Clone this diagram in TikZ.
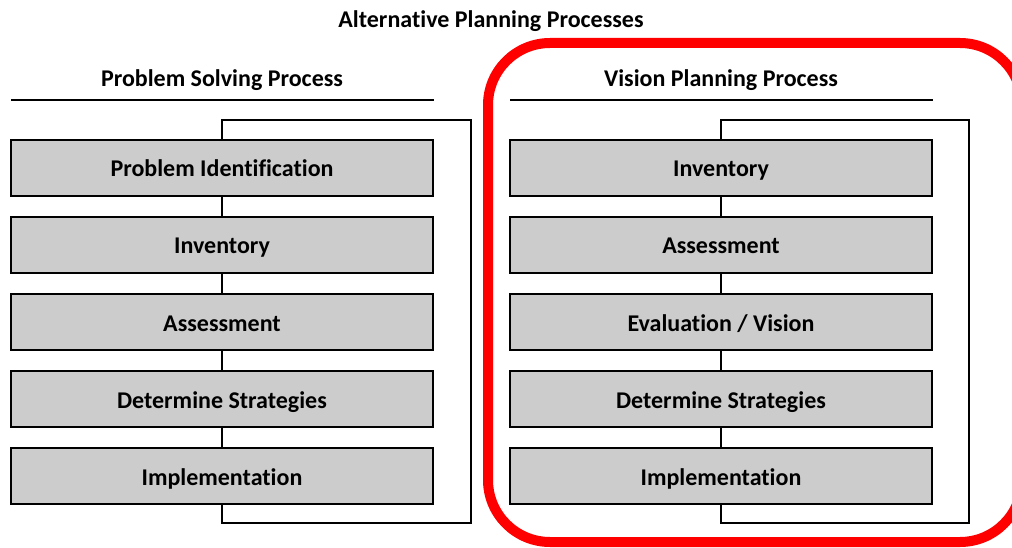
\documentclass[tikz,border=0pt]{standalone}
\usepackage{fontspec}
\setmainfont{Carlito}[Ligatures={NoCommon}]
\begin{document}
\begin{tikzpicture}[x=1pt,y=-1pt,
  stepbox/.style={draw=black,line width=2.6pt,fill=black!20,minimum width=422pt,minimum height=56pt,inner sep=0pt,text height=20pt,text depth=2pt,font=\fontsize{24}{28}\selectfont\bfseries},
  hdr/.style={font=\fontsize{24}{28}\selectfont\bfseries,inner sep=0pt,anchor=base},
  link/.style={line width=1.8pt,draw=black}]
\useasboundingbox (0,0) rectangle (1012,548);
\node[hdr] (title) at (491,27.5) {Alternative Planning Processes};
% red frame
\draw[red,line width=10pt,rounded corners=62pt] (488,43) rectangle (1022,542);
% left column
\node[hdr] (lh) at (222,86.5) {Problem Solving Process};
\draw[link] (11,100) -- (434,100);
\node[stepbox] (l1) at (222,168) {Problem Identification};
\node[stepbox] (l2) at (222,245) {Inventory};
\node[stepbox] (l3) at (222,322) {Assessment};
\node[stepbox] (l4) at (222,399) {Determine Strategies};
\node[stepbox] (l5) at (222,476) {Implementation};
\coordinate (la) at (222,120);
\coordinate (lb) at (471,120);
\coordinate (lc) at (471,523);
\coordinate (ld) at (222,523);
\draw[link] (l1.north) -- (la) -- (lb) -- (lc) -- (ld) -- (l5.south);
\draw[link] (l1) -- (l2);
\draw[link] (l2) -- (l3);
\draw[link] (l3) -- (l4);
\draw[link] (l4) -- (l5);
% right column
\node[hdr] (rh) at (721,86.5) {Vision Planning Process};
\draw[link] (510,100) -- (933,100);
\node[stepbox] (r1) at (721,168) {Inventory};
\node[stepbox] (r2) at (721,245) {Assessment};
\node[stepbox] (r3) at (721,322) {Evaluation / Vision};
\node[stepbox] (r4) at (721,399) {Determine Strategies};
\node[stepbox] (r5) at (721,476) {Implementation};
\coordinate (ra) at (721,120);
\coordinate (rb) at (969,120);
\coordinate (rc) at (969,523);
\coordinate (rd) at (721,523);
\draw[link] (r1.north) -- (ra) -- (rb) -- (rc) -- (rd) -- (r5.south);
\draw[link] (r1) -- (r2);
\draw[link] (r2) -- (r3);
\draw[link] (r3) -- (r4);
\draw[link] (r4) -- (r5);
\end{tikzpicture}
\end{document}
